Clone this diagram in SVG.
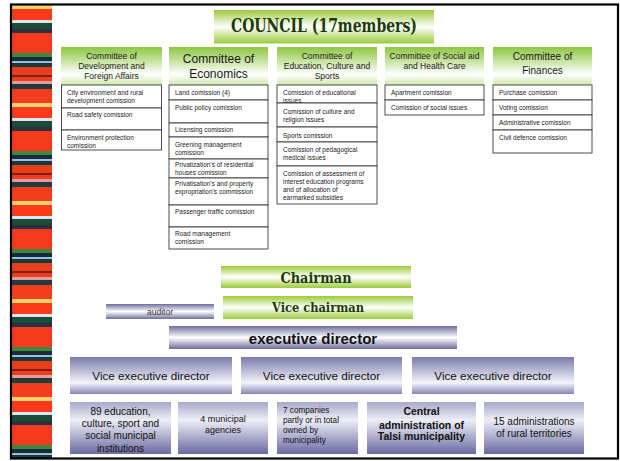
<svg xmlns="http://www.w3.org/2000/svg" width="620" height="461" viewBox="0 0 620 461">
<style>
.item{fill:#fff;stroke:#3a3a3a;stroke-width:0.9}
.it{font-family:"Liberation Sans",Arial,sans-serif;font-size:6.5px;fill:#222}
.hd{font-family:"Liberation Sans",Arial,sans-serif;font-size:8.5px;fill:#1a1a1a;text-anchor:middle}
.heavy{font-family:"DejaVu Serif",serif;font-weight:bold;fill:#1d3a0c;text-anchor:middle}
.sans{font-family:"Liberation Sans",Arial,sans-serif;fill:#111;text-anchor:middle}
.bt{font-family:"Liberation Sans",Arial,sans-serif;fill:#111;text-anchor:middle;font-size:10px}
</style>
<defs>
<linearGradient id="gGreen" x1="0" y1="0" x2="0" y2="1">
<stop offset="0" stop-color="#9acb3a"/><stop offset="0.5" stop-color="#ffffff"/><stop offset="1" stop-color="#9acb3a"/>
</linearGradient>
<linearGradient id="gHead" x1="0" y1="0" x2="0" y2="1">
<stop offset="0" stop-color="#8dc63f"/><stop offset="0.72" stop-color="#ffffff"/><stop offset="1" stop-color="#cfe8a8"/>
</linearGradient>
<linearGradient id="gPurple" x1="0" y1="0" x2="0" y2="1">
<stop offset="0" stop-color="#6e6e9e"/><stop offset="0.5" stop-color="#ffffff"/><stop offset="1" stop-color="#6e6e9e"/>
</linearGradient>
<linearGradient id="gVice" x1="0" y1="0" x2="0" y2="1">
<stop offset="0" stop-color="#7a7aac"/><stop offset="0.7" stop-color="#f4f4fa"/><stop offset="1" stop-color="#8686b6"/>
</linearGradient>
<linearGradient id="gLow" x1="0" y1="0" x2="0" y2="1">
<stop offset="0" stop-color="#a8a8cc"/><stop offset="0.35" stop-color="#eeeef6"/><stop offset="1" stop-color="#6a6aa2"/>
</linearGradient>
<pattern id="stripe" patternUnits="userSpaceOnUse" x="0" y="5" width="60" height="98">
<rect y="0" width="60" height="4" fill="#f5d36a"/>
<rect y="4" width="60" height="11" fill="#fb3a1c"/>
<rect y="15" width="60" height="3" fill="#d8e8f0"/>
<rect y="18" width="60" height="6" fill="#1e4a3a"/>
<rect y="24" width="60" height="4" fill="#2a3040"/>
<rect y="28" width="60" height="20" fill="#f63a1e"/>
<rect y="48" width="60" height="4" fill="#3c8a40"/>
<rect y="52" width="60" height="4" fill="#1a2a3a"/>
<rect y="56" width="60" height="2" fill="#9ac0e0"/>
<rect y="58" width="60" height="4" fill="#1a3a3a"/>
<rect y="62" width="60" height="8" fill="#e8401c"/>
<rect y="70" width="60" height="2" fill="#8a1a10"/>
<rect y="72" width="60" height="4" fill="#e84020"/>
<rect y="76" width="60" height="3" fill="#e89aa0"/>
<rect y="79" width="60" height="5" fill="#1e3c3c"/>
<rect y="84" width="60" height="14" fill="#f43c1e"/>
</pattern>
</defs>
<rect width="620" height="461" fill="#fff"/>
<rect x="12" y="5" width="40" height="453" fill="url(#stripe)"/>
<rect x="11" y="4.5" width="607" height="454" fill="none" stroke="#000" stroke-width="2.2"/>

<g id="council">
<rect x="214" y="10" width="220" height="33.5" fill="url(#gGreen)"/>
<text class="heavy" x="324" y="32" font-size="18" textLength="186" lengthAdjust="spacingAndGlyphs">COUNCIL (17members)</text>
</g>

<g id="committee-development">
<rect x="61" y="47" width="101" height="38" fill="url(#gHead)"/>
<text class="hd" x="111.5" y="59">Committee of</text>
<text class="hd" x="111.5" y="69">Development and</text>
<text class="hd" x="111.5" y="79">Foreign Affairs</text>
<rect class="item" x="61.5" y="85" width="100" height="23"/>
<rect class="item" x="61.5" y="108" width="100" height="22"/>
<rect class="item" x="61.5" y="130" width="100" height="20"/>
<text class="it" x="67" y="95">City environment  and rural</text>
<text class="it" x="67" y="103">development  comission</text>
<text class="it" x="67" y="117">Road safety comission</text>
<text class="it" x="67" y="140">Environment  protection</text>
<text class="it" x="67" y="148">comission</text>
</g>

<g id="committee-economics">
<rect x="169" y="47" width="99" height="38" fill="url(#gHead)"/>
<text class="hd" x="218.5" y="62.5" style="font-size:12px">Committee of</text>
<text class="hd" x="218.5" y="77.5" style="font-size:12px">Economics</text>
<rect class="item" x="169" y="85" width="99" height="15"/>
<rect class="item" x="169" y="100" width="99" height="23"/>
<rect class="item" x="169" y="123" width="99" height="14"/>
<rect class="item" x="169" y="137" width="99" height="22"/>
<rect class="item" x="169" y="159" width="99" height="19"/>
<rect class="item" x="169" y="178" width="99" height="27"/>
<rect class="item" x="169" y="205" width="99" height="22"/>
<rect class="item" x="169" y="227" width="99" height="22"/>
<text class="it" x="175" y="95">Land comission (4)</text>
<text class="it" x="175" y="110">Public policy comission</text>
<text class="it" x="175" y="132">Licensing comission</text>
<text class="it" x="175" y="147">Greening management</text>
<text class="it" x="175" y="155">comission</text>
<text class="it" x="175" y="167">Privatization's of residential</text>
<text class="it" x="175" y="175">houses comission</text>
<text class="it" x="175" y="186">Privatisation's and property</text>
<text class="it" x="175" y="194">expropriation's commission</text>
<text class="it" x="175" y="214">Passenger traffic comission</text>
<text class="it" x="175" y="236">Road management</text>
<text class="it" x="175" y="244">comission</text>
</g>

<g id="committee-education">
<rect x="277" y="47" width="100" height="38" fill="url(#gHead)"/>
<text class="hd" x="327" y="59">Committee of</text>
<text class="hd" x="327" y="69">Education, Culture and</text>
<text class="hd" x="327" y="79">Sports</text>
<rect class="item" x="277" y="85" width="100" height="18"/>
<rect class="item" x="277" y="103" width="100" height="24"/>
<rect class="item" x="277" y="127" width="100" height="15"/>
<rect class="item" x="277" y="142" width="100" height="24"/>
<rect class="item" x="277" y="166" width="100" height="38"/>
<text class="it" x="283" y="95">Comission of educational</text>
<text class="it" x="283" y="103">issues</text>
<text class="it" x="283" y="114">Comission of culture and</text>
<text class="it" x="283" y="122">religion issues</text>
<text class="it" x="283" y="138">Sports comission</text>
<text class="it" x="283" y="152">Comission of pedagogical</text>
<text class="it" x="283" y="160">medical issues</text>
<text class="it" x="283" y="176">Comission of assessment of</text>
<text class="it" x="283" y="184">interest education programs</text>
<text class="it" x="283" y="192">and of allocation of</text>
<text class="it" x="283" y="200">earmarked subsidies</text>
</g>

<g id="committee-social">
<rect x="385" y="47" width="99" height="38" fill="url(#gHead)"/>
<text class="hd" x="434.5" y="59">Committee of Social aid</text>
<text class="hd" x="434.5" y="69">and Health Care</text>
<rect class="item" x="385" y="85" width="99" height="15"/>
<rect class="item" x="385" y="100" width="99" height="15"/>
<text class="it" x="391" y="95">Apartment  comission</text>
<text class="it" x="391" y="110">Comission of social issues</text>
</g>

<g id="committee-finances">
<rect x="493" y="47" width="99" height="38" fill="url(#gHead)"/>
<text class="hd" x="542.5" y="60" style="font-size:10px">Committee of</text>
<text class="hd" x="542.5" y="73.5" style="font-size:10px">Finances</text>
<rect class="item" x="493" y="85" width="99" height="15"/>
<rect class="item" x="493" y="100" width="99" height="15"/>
<rect class="item" x="493" y="115" width="99" height="15"/>
<rect class="item" x="493" y="130" width="99" height="23"/>
<text class="it" x="499" y="95">Purchase comission</text>
<text class="it" x="499" y="110">Voting comission</text>
<text class="it" x="499" y="125">Administrative comission</text>
<text class="it" x="499" y="140">Civil defence comission</text>
</g>

<g id="chairman">
<rect x="221" y="266" width="190" height="22" fill="url(#gGreen)"/>
<text class="heavy" x="316" y="283" font-size="14.5" textLength="71" lengthAdjust="spacingAndGlyphs">Chairman</text>
</g>

<g id="vice-chairman">
<rect x="223" y="296" width="190" height="23" fill="url(#gGreen)"/>
<text class="heavy" x="318" y="311.5" font-size="12.5" textLength="92" lengthAdjust="spacingAndGlyphs">Vice chairman</text>
</g>

<g id="auditor">
<rect x="106" y="304" width="108" height="15" fill="url(#gPurple)"/>
<text class="sans" x="160" y="315" style="font-size:8.5px;fill:#333">auditor</text>
</g>

<g id="executive-director">
<rect x="169" y="326" width="288" height="23" fill="url(#gPurple)"/>
<text class="sans" x="313" y="344" style="font-size:15px;font-weight:bold">executive director</text>
</g>

<g id="vice-exec-1">
<rect x="70" y="357" width="162" height="37" fill="url(#gVice)"/>
<text class="sans" x="151" y="380" style="font-size:11.7px">Vice executive director</text>
</g>
<g id="vice-exec-2">
<rect x="241" y="357" width="161" height="37" fill="url(#gVice)"/>
<text class="sans" x="321.5" y="380" style="font-size:11.7px">Vice executive director</text>
</g>
<g id="vice-exec-3">
<rect x="412" y="357" width="162" height="37" fill="url(#gVice)"/>
<text class="sans" x="493" y="380" style="font-size:11.7px">Vice executive director</text>
</g>

<g id="institutions">
<rect x="70" y="402" width="101" height="52" fill="url(#gLow)"/>
<text class="bt" x="120.5" y="415">89 education,</text>
<text class="bt" x="120.5" y="427">culture, sport and</text>
<text class="bt" x="120.5" y="439">social municipal</text>
<text class="bt" x="120.5" y="451.5">institutions</text>
</g>
<g id="agencies">
<rect x="178" y="402" width="90" height="52" fill="url(#gLow)"/>
<text class="bt" x="223" y="422" style="font-size:9px">4 municipal</text>
<text class="bt" x="223" y="433" style="font-size:9px">agencies</text>
</g>
<g id="companies">
<rect x="277" y="402" width="81" height="52" fill="url(#gLow)"/>
<text class="bt" x="283" y="412.5" style="font-size:8.2px;text-anchor:start">7 companies</text>
<text class="bt" x="283" y="422.5" style="font-size:8.2px;text-anchor:start">partly or in total</text>
<text class="bt" x="283" y="432.5" style="font-size:8.2px;text-anchor:start">owned by</text>
<text class="bt" x="283" y="442.5" style="font-size:8.2px;text-anchor:start">municipality</text>
</g>
<g id="central-administration">
<rect x="367" y="402" width="109" height="52" fill="url(#gLow)"/>
<text class="bt" x="421.5" y="415" style="font-size:10.5px;font-weight:bold">Central</text>
<text class="bt" x="421.5" y="428.5" style="font-size:10.5px;font-weight:bold">administration of</text>
<text class="bt" x="421.5" y="440" style="font-size:10.5px;font-weight:bold">Talsi municipality</text>
</g>
<g id="rural-administrations">
<rect x="484" y="402" width="100" height="52" fill="url(#gLow)"/>
<text class="bt" x="534" y="425">15 administrations</text>
<text class="bt" x="534" y="437">of rural territories</text>
</g>
</svg>
